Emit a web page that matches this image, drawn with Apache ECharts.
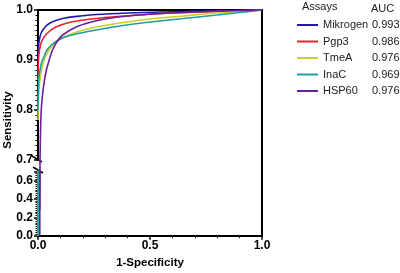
<!DOCTYPE html>
<html>
<head>
<meta charset="utf-8">
<script src="https://cdn.jsdelivr.net/npm/echarts@6/dist/echarts.min.js"></script>
<style>
  html, body { margin: 0; padding: 0; background: #fff; }
  #chart { width: 400px; height: 273px; }
</style>
</head>
<body>
<div id="chart"></div>
<script>
// assays, AUC values and colours (legend order)
const assays = ["Mikrogen", "Pgp3", "TmeA", "InaC", "HSP60"];
const auc = ["0.993", "0.986", "0.976", "0.969", "0.976"];
const colors = ["#1c1ca8", "#e3242b", "#cdcd2c", "#1f9ea3", "#6b1f9c"];

// ROC points [1-specificity, sensitivity]
const mikrogen = [[0, 0], [0, 0.9], [0.003, 0.93], [0.008, 0.945], [0.015, 0.955], [0.03, 0.965], [0.05, 0.973], [0.08, 0.979], [0.12, 0.984], [0.19, 0.988], [0.26, 0.991], [0.4, 0.994], [0.55, 0.996], [0.75, 0.998], [1, 1]];
const pgp3 = [[0, 0], [0, 0.86], [0.002, 0.9], [0.006, 0.918], [0.016, 0.937], [0.04, 0.953], [0.08, 0.966], [0.14, 0.975], [0.22, 0.981], [0.3, 0.985], [0.45, 0.99], [0.6, 0.994], [0.8, 0.997], [1, 1]];
const tmea = [[0, 0], [0, 0.78], [0.004, 0.84], [0.01, 0.865], [0.018, 0.885], [0.03, 0.903], [0.045, 0.917], [0.065, 0.929], [0.09, 0.939], [0.12, 0.947], [0.18, 0.957], [0.26, 0.966], [0.38, 0.975], [0.5, 0.982], [0.65, 0.988], [0.8, 0.994], [1, 1]];
const inac = [[0, 0], [0, 0.8], [0.003, 0.86], [0.009, 0.88], [0.016, 0.895], [0.025, 0.905], [0.04, 0.92], [0.06, 0.93], [0.08, 0.937], [0.11, 0.944], [0.16, 0.951], [0.26, 0.96], [0.38, 0.969], [0.5, 0.976], [0.65, 0.983], [0.8, 0.99], [0.9, 0.995], [1, 1]];
const hsp60 = [[0.008, 0], [0.008, 0.6], [0.009, 0.7], [0.012, 0.77], [0.016, 0.81], [0.024, 0.845], [0.035, 0.875], [0.05, 0.9], [0.065, 0.92], [0.085, 0.937], [0.11, 0.95], [0.17, 0.966], [0.23, 0.975], [0.3, 0.982], [0.4, 0.988], [0.55, 0.993], [0.75, 0.997], [1, 1]];
const curves = [mikrogen, pgp3, tmea, inac, hsp60];

const font = "Liberation Sans, Arial, sans-serif";
const axisLine = { show: true, onZero: false, lineStyle: { color: "#000", width: 2 } };
const tick = { show: true, length: 4, lineStyle: { color: "#000", width: 1.5 } };
const minor = (n) => ({ show: true, splitNumber: n, length: 2.5, lineStyle: { color: "#000", width: 1 } });
const label = { color: "#000", fontWeight: "bold", fontSize: 12, fontFamily: font, formatter: (v) => v.toFixed(1) };

let series = [];
assays.forEach((name, i) => {
  // upper part of the broken axis (0.7 - 1.0)
  series.push({
    name: name, type: "line", xAxisIndex: 0, yAxisIndex: 0,
    data: curves[i].filter((p) => p[1] >= 0.6),
    smooth: 0.25, showSymbol: false, clip: name !== "HSP60",
    lineStyle: { color: colors[i], width: 1.6 }, itemStyle: { color: colors[i] }
  });
  // lower part (0 - 0.7)
  series.push({
    name: name, type: "line", xAxisIndex: 1, yAxisIndex: 1,
    data: curves[i].filter((p) => p[1] <= 0.8),
    showSymbol: false,
    lineStyle: { color: colors[i], width: 1.6 }, itemStyle: { color: colors[i] }
  });
});

let option = {
  animation: false,
  backgroundColor: "#fff",
  title: [
    { text: "Assays", left: 297, top: -4, textStyle: { fontSize: 11, fontWeight: "normal", color: "#222", fontFamily: font } },
    { text: "AUC", left: 366, top: -2, textStyle: { fontSize: 11, fontWeight: "normal", color: "#222", fontFamily: font } }
  ],
  legend: {
    data: assays, orient: "vertical", left: 292, top: 13,
    icon: "rect", itemWidth: 21, itemHeight: 2, itemGap: 2.5, itemTextGap: 0,
    formatter: (name) => "{n|" + name + "}{a|" + auc[assays.indexOf(name)] + "}",
    textStyle: {
      color: "#222", fontSize: 11, fontFamily: font, lineHeight: 14,
      rich: { n: { width: 49, fontSize: 11, fontFamily: font, color: "#222" }, a: { fontSize: 11, fontFamily: font, color: "#222" } }
    }
  },
  grid: [
    { left: 38, right: 138, top: 10, height: 150 },
    { left: 38, right: 138, top: 171.6, height: 64.1 }
  ],
  xAxis: [
    { gridIndex: 0, type: "value", min: 0, max: 1, position: "top", axisLine: axisLine, axisTick: { show: false }, axisLabel: { show: false }, splitLine: { show: false } },
    {
      gridIndex: 1, type: "value", min: 0, max: 1, interval: 0.5, position: "bottom",
      axisLine: axisLine, axisTick: tick, minorTick: minor(5), splitLine: { show: false },
      axisLabel: Object.assign({ margin: 4 }, label),
      name: "1-Specificity", nameLocation: "middle", nameGap: 21,
      nameTextStyle: { color: "#000", fontWeight: "bold", fontSize: 11.5, fontFamily: font }
    }
  ],
  yAxis: [
    {
      gridIndex: 0, type: "value", min: 0.7, max: 1, interval: 0.1, z: 3,
      axisLine: axisLine, axisTick: tick, minorTick: minor(10), splitLine: { show: false },
      axisLabel: Object.assign({ margin: 5 }, label)
    },
    {
      gridIndex: 1, type: "value", min: 0, max: 0.7, interval: 0.2, z: 3,
      axisLine: axisLine, axisTick: tick, minorTick: minor(10), splitLine: { show: false },
      axisLabel: Object.assign({ margin: 5, showMaxLabel: false }, label)
    }
  ],
  graphic: [
    { type: "line", shape: { x1: 262, y1: 9, x2: 262, y2: 236.7 }, style: { stroke: "#000", lineWidth: 2 } },
    { type: "line", shape: { x1: 32, y1: 156, x2: 42, y2: 162 }, style: { stroke: "#000", lineWidth: 1.5 } },
    { type: "line", shape: { x1: 33, y1: 167, x2: 43, y2: 173 }, style: { stroke: "#000", lineWidth: 1.5 } },
    {
      type: "text", x: 8, y: 120, rotation: Math.PI / 2,
      style: { text: "Sensitivity", align: "center", verticalAlign: "middle", fill: "#000", font: "bold 11.5px " + font }
    }
  ],
  series: series
};

let myChart = echarts.init(document.getElementById("chart"));
myChart.setOption(option);
</script>
</body>
</html>
